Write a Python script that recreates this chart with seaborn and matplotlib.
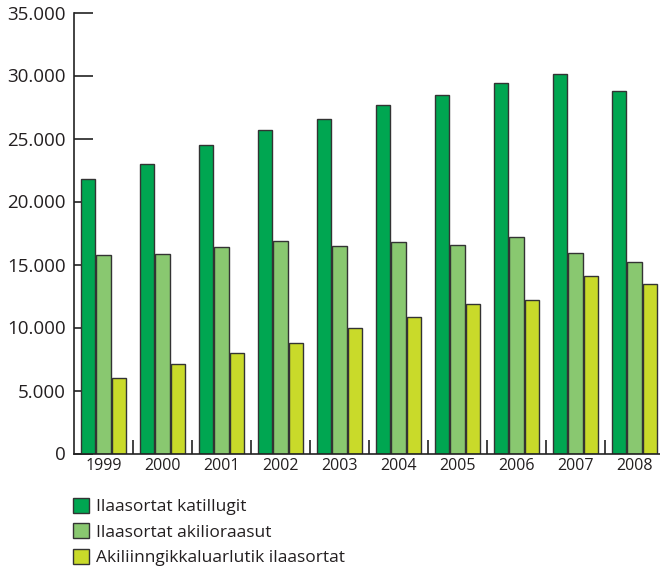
import matplotlib
matplotlib.use("Agg")
import matplotlib.pyplot as plt
import seaborn as sns
import pandas as pd
from matplotlib.patches import Patch
from matplotlib.ticker import FuncFormatter, FixedLocator

years = ["1999", "2000", "2001", "2002", "2003", "2004", "2005", "2006", "2007", "2008"]
series_names = ["Ilaasortat katillugit", "Ilaasortat akilioraasut", "Akiliinngikkaluarlutik ilaasortat"]
katillugit = [21800, 22950, 24450, 25650, 26550, 27650, 28450, 29400, 30100, 28800]
akilioraasut = [15750, 15850, 16400, 16850, 16500, 16750, 16550, 17200, 15900, 15200]
akiliinngikkaluarlutik = [6000, 7100, 8000, 8750, 10000, 10850, 11850, 12150, 14100, 13450]
colors = ["#00A651", "#89C870", "#C9DA2A"]

df = pd.DataFrame({
    "year": years * 3,
    "series": [series_names[0]] * 10 + [series_names[1]] * 10 + [series_names[2]] * 10,
    "value": katillugit + akilioraasut + akiliinngikkaluarlutik,
})

sns.set_style("white")
plt.rcParams["font.family"] = ["Open Sans", "DejaVu Sans"]

fig = plt.figure(figsize=(6.6, 5.66), dpi=100)
ax = fig.add_axes([74 / 660, (566 - 453.5) / 566, 590 / 660, 441 / 566])

sns.barplot(data=df, x="year", y="value", hue="series", order=years,
            hue_order=series_names, palette=colors, width=0.77, gap=0.06,
            edgecolor="#333333", linewidth=1.0, saturation=1, ax=ax, legend=False)

ax.set_xlim(-0.5, 9.5)
ax.set_ylim(0, 35000)
ax.set_xlabel("")
ax.set_ylabel("")
ax.set_yticks(range(0, 35001, 5000))
ax.yaxis.set_major_formatter(FuncFormatter(lambda v, p: f"{int(v):,}".replace(",", ".")))
ax.tick_params(axis="y", direction="in", length=14, width=1.2, color="#222222",
               labelsize=13.5, pad=6, left=True, labelcolor="#231f20")
ax.tick_params(axis="x", which="major", length=0, labelsize=11.5, pad=3, labelcolor="#231f20")
ax.xaxis.set_minor_locator(FixedLocator([i + 0.5 for i in range(10)]))
ax.tick_params(axis="x", which="minor", direction="in", length=10, width=1.2, color="#222222", bottom=True)

for s in ["top", "right"]:
    ax.spines[s].set_visible(False)
for s in ["left", "bottom"]:
    ax.spines[s].set_visible(True)
    ax.spines[s].set_color("#222222")
    ax.spines[s].set_linewidth(1.2)

handles = [Patch(facecolor=c, edgecolor="#333333", linewidth=1.0) for c in colors]
fig.legend(handles, series_names, loc="upper left", bbox_to_anchor=(73 / 660, 1 - 498 / 566),
           frameon=False, fontsize=12.5, handlelength=0.95, handleheight=0.95,
           handletextpad=0.4, labelspacing=0.45, borderaxespad=0, borderpad=0,
           labelcolor="#231f20")

fig.savefig("out.png", dpi=100)
